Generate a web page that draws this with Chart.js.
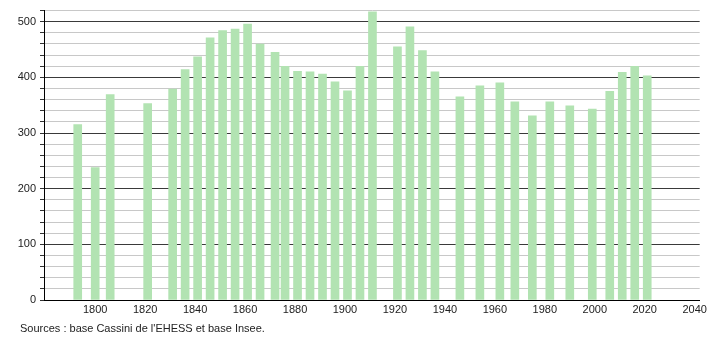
<!DOCTYPE html>
<html>
<head>
<meta charset="utf-8">
<script src="https://cdn.jsdelivr.net/npm/chart.js@4/dist/chart.umd.min.js"></script>
<style>
  html, body { margin: 0; padding: 0; background: #fff; }
  #wrap { position: relative; width: 710px; height: 340px; }
  #source {
    position: absolute; left: 20px; top: 322px;
    font: 11px "Liberation Sans", Arial, sans-serif; color: #222;
  }
</style>
</head>
<body>
<div id="wrap">
  <canvas id="popChart" width="710" height="340"></canvas>
  <div id="source">Sources : base Cassini de l'EHESS et base Insee.</div>
</div>
<script>
// census years and population
const years = [1793, 1800, 1806, 1821, 1831, 1836, 1841, 1846, 1851, 1856, 1861, 1866, 1872, 1876,
    1881, 1886, 1891, 1896, 1901, 1906, 1911, 1921, 1926, 1931, 1936, 1946, 1954, 1962, 1968,
    1975, 1982, 1990, 1999, 2006, 2011, 2016, 2021];
const population = [315, 238, 369, 353, 379, 414, 437, 471, 484, 487, 496, 460, 445, 420,
    411, 410, 406, 392, 376, 420, 518, 455, 491, 448, 410, 365, 385, 390, 356,
    331, 356, 349, 343, 375, 409, 420, 403];
const yearLabels = [1800, 1820, 1840, 1860, 1880, 1900, 1920, 1940, 1960, 1980, 2000, 2020, 2040];
const popLabels = [0, 100, 200, 300, 400, 500];

document.addEventListener("DOMContentLoaded", function() {
    const ctx = document.getElementById('popChart').getContext('2d');
    const points = years.map((y, i) => ({ x: y, y: population[i] }));
    const font = { family: '"Liberation Sans", Arial, sans-serif', size: 11 };

    new Chart(ctx, {
        type: 'bar',
        data: {
            datasets: [{
                data: points,
                backgroundColor: '#b2e3b2',
                barThickness: 8
            }]
        },
        options: {
            responsive: false,
            animation: false,
            layout: { padding: { top: 10, right: 10, left: 0, bottom: 0 } },
            plugins: { legend: { display: false }, tooltip: { enabled: false } },
            scales: {
                x: {
                    type: 'linear',
                    offset: false,
                    min: 1779.5,
                    max: 2042,
                    afterFit: s => { s.height = 40; },
                    grid: { display: false, drawTicks: false },
                    border: { color: '#000', width: 1 },
                    ticks: {
                        stepSize: 20,
                        includeBounds: false,
                        maxRotation: 0,
                        autoSkip: false,
                        color: '#222',
                        font: font,
                        padding: 3,
                        callback: v => yearLabels.includes(v) ? String(v) : ''
                    }
                },
                y: {
                    min: 0,
                    max: 520,
                    afterFit: s => { s.width = 44; },
                    grid: {
                        color: c => (c.tick && c.tick.value % 100 === 0) ? '#3a3a3a' : '#c8c8c8',
                        tickColor: '#333',
                        tickLength: 4,
                        lineWidth: 1
                    },
                    border: { color: '#000', width: 1 },
                    ticks: {
                        stepSize: 20,
                        autoSkip: false,
                        color: '#222',
                        font: font,
                        padding: 4,
                        callback: v => popLabels.includes(v) ? String(v) : ''
                    }
                }
            }
        }
    });
});
</script>
</body>
</html>
